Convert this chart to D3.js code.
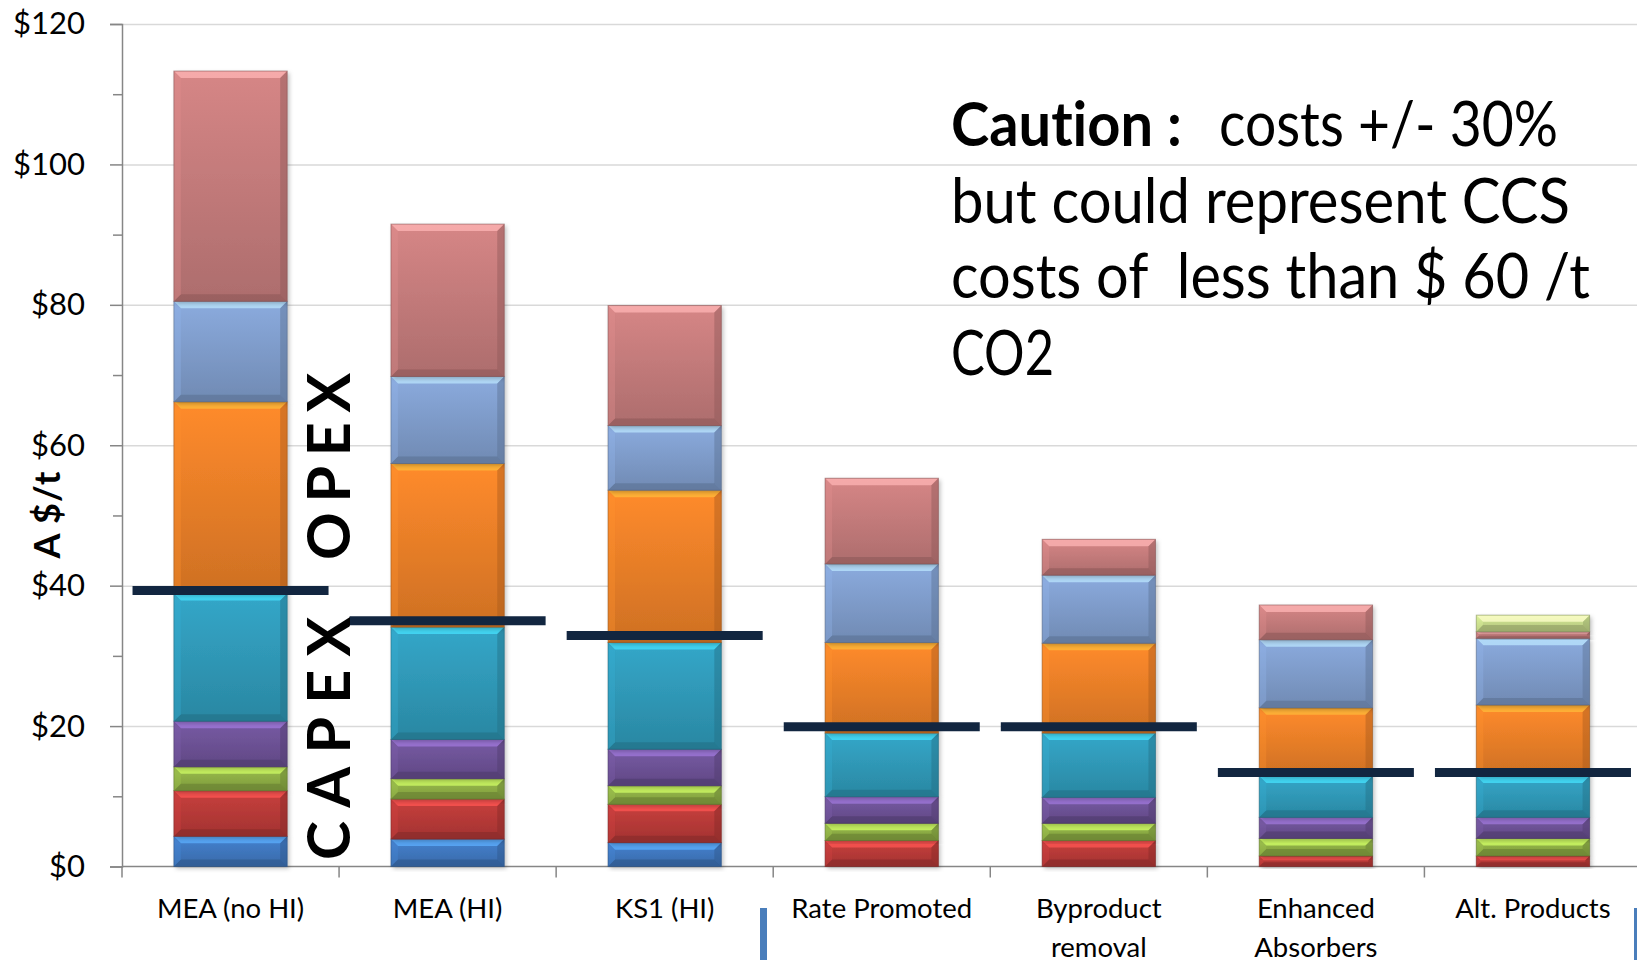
<!DOCTYPE html>
<html>
<head>
<meta charset="utf-8">
<script src="https://cdn.jsdelivr.net/npm/d3@7/dist/d3.min.js"></script>
<style>
  html, body { margin: 0; padding: 0; background: #fff; }
  svg { display: block; }
  text { font-family: Lato, "Open Sans", "Liberation Sans", sans-serif; font-variant-ligatures: none; font-feature-settings: "liga" 0, "clig" 0; }
</style>
</head>
<body>
<svg id="chart" width="1637" height="960"></svg>
<script>
// ---------------- DATA ----------------
const categories = ["MEA (no HI)", "MEA (HI)", "KS1 (HI)", "Rate Promoted", "Byproduct\nremoval", "Enhanced\nAbsorbers", "Alt. Products"];
const seriesKeys = ["capex1", "capex2", "capex3", "capex4", "capex5", "opex1", "opex2", "opex3", "opex4"];
const capex1 = [4.3, 3.9, 3.4, 0, 0, 0, 0];
const capex2 = [6.5, 5.7, 5.45, 3.7, 3.7, 1.5, 1.5];
const capex3 = [3.4, 2.9, 2.65, 2.45, 2.45, 2.5, 2.5];
const capex4 = [6.5, 5.6, 5.2, 3.8, 3.7, 3.0, 3.0];
const capex5 = [18.2, 16.0, 15.2, 9.05, 9.15, 5.9, 5.9];
const opex1 = [27.3, 23.3, 21.7, 12.9, 12.8, 9.7, 10.1];
const opex2 = [14.3, 12.4, 9.2, 11.2, 9.7, 9.7, 9.5];
const opex3 = [32.8, 21.7, 17.1, 12.2, 5.1, 4.95, 0.95];
const opex4 = [0, 0, 0, 0, 0, 0, 2.35];
const capexTotal = [39.3, 35.0, 32.9, 19.9, 19.9, 13.4, 13.4];
const yTicks = [0, 20, 40, 60, 80, 100, 120];
const yMinorTicks = [10, 30, 50, 70, 90, 110];
const seriesColors = ["#3F77BE", "#B73A38", "#8EAE45", "#6D5296", "#3099B8", "#E97F28", "#7F9CCB", "#C47B7B", "#C5D88A"];
const cautionBold = "Caution :";
const cautionLines = ["costs +/- 30%", "but could represent CCS", "costs of  less than $ 60 /t", "CO2"];

// ---------------- LAYOUT ----------------
const svg = d3.select("#chart");
const X0 = 122, STEP = 217.07, Y0 = 866.5, YTOP = 24;
const x = d3.scaleBand().domain(categories).range([X0, X0 + STEP * categories.length]).paddingInner(0.478).paddingOuter(0.239);
const y = d3.scaleLinear().domain([0, 120]).range([Y0, YTOP]);

svg.append("rect").attr("width", 1637).attr("height", 960).attr("fill", "#fff");

const defs = svg.append("defs");
seriesColors.forEach((c, i) => {
  const g = defs.append("linearGradient").attr("id", "grad" + i).attr("x1", 0).attr("y1", 0).attr("x2", 0).attr("y2", 1);
  g.append("stop").attr("offset", "0%").attr("stop-color", d3.color(c).brighter(0.25));
  g.append("stop").attr("offset", "100%").attr("stop-color", d3.color(c).darker(0.35));
});
const flt = defs.append("filter").attr("id", "shadow").attr("x", "-10%").attr("y", "-10%").attr("width", "130%").attr("height", "130%");
flt.append("feDropShadow").attr("dx", 2).attr("dy", 2).attr("stdDeviation", 2).attr("flood-color", "#000").attr("flood-opacity", 0.25);

// gridlines
svg.append("g").attr("transform", `translate(${X0},0)`)
  .call(d3.axisLeft(y).tickValues(yTicks.filter(d => d > 0)).tickSize(-1600).tickFormat(""))
  .call(g => g.select(".domain").remove())
  .call(g => g.selectAll("line").attr("stroke", "#D9D9D9").attr("stroke-width", 1.5));

// y axis major
svg.append("g").attr("transform", `translate(${X0},0)`)
  .call(d3.axisLeft(y).tickValues(yTicks).tickSize(12).tickPadding(25).tickFormat(d => "$" + d))
  .call(g => g.select(".domain").attr("stroke", "#868686").attr("stroke-width", 1.5))
  .call(g => g.selectAll("line").attr("stroke", "#868686").attr("stroke-width", 1.5))
  .call(g => g.selectAll("text").attr("font-size", 31).attr("fill", "#000").attr("font-family", "Lato, sans-serif"));
// y axis minor
svg.append("g").attr("transform", `translate(${X0},0)`)
  .call(d3.axisLeft(y).tickValues(yMinorTicks).tickSize(9).tickFormat(""))
  .call(g => g.select(".domain").remove())
  .call(g => g.selectAll("line").attr("stroke", "#868686").attr("stroke-width", 1.5));

// x axis line and boundary ticks
const gap = (x.step() - x.bandwidth()) / 2;
const bounds = categories.map(c => x(c) - gap).concat([x(categories[categories.length - 1]) + x.bandwidth() + gap]);
const xa = svg.append("g");
xa.append("line").attr("x1", X0).attr("x2", bounds[bounds.length - 1]).attr("y1", Y0).attr("y2", Y0).attr("stroke", "#868686").attr("stroke-width", 1.5);
xa.selectAll("line.tk").data(bounds).join("line").attr("class", "tk")
  .attr("x1", d => d).attr("x2", d => d).attr("y1", Y0).attr("y2", Y0 + 11).attr("stroke", "#868686").attr("stroke-width", 1.5);

// category labels
const catG = svg.append("g");
categories.forEach(c => {
  const lines = c.split("\n");
  const t = catG.append("text").attr("text-anchor", "middle").attr("font-size", 27.5).attr("fill", "#000")
    .attr("x", x(c) + x.bandwidth() / 2).attr("y", 918);
  lines.forEach((l, i) => t.append("tspan").attr("x", x(c) + x.bandwidth() / 2).attr("dy", i === 0 ? 0 : 39).text(l));
});

// stacked bars
const seriesArrays = [capex1, capex2, capex3, capex4, capex5, opex1, opex2, opex3, opex4];
const table = categories.map((c, i) => {
  const o = { cat: c };
  seriesKeys.forEach((k, j) => o[k] = seriesArrays[j][i]);
  return o;
});
const stacked = d3.stack().keys(seriesKeys)(table);

const barsG = svg.append("g");
stacked.forEach((layer, si) => {
  const col = d3.color(seriesColors[si]);
  layer.forEach(d => {
    const v0 = d[0], v1 = d[1];
    if (v1 - v0 <= 0) return;
    const bx = x(d.data.cat), bw = x.bandwidth();
    const by = y(v1), bh = y(v0) - y(v1);
    const g = barsG.append("g");
    g.append("rect").attr("x", bx).attr("y", by).attr("width", bw).attr("height", bh)
      .attr("fill", `url(#grad${si})`).attr("filter", "url(#shadow)");
    const b = Math.min(7, bh / 2.5);
    g.append("polygon").attr("points", [[bx, by], [bx + bw, by], [bx + bw - b, by + b], [bx + b, by + b]].join(" "))
      .attr("fill", col.brighter(1.1)).attr("opacity", 0.75);
    g.append("polygon").attr("points", [[bx, by + bh], [bx + bw, by + bh], [bx + bw - b, by + bh - b], [bx + b, by + bh - b]].join(" "))
      .attr("fill", col.darker(0.9)).attr("opacity", 0.6);
    g.append("polygon").attr("points", [[bx, by], [bx + b, by + b], [bx + b, by + bh - b], [bx, by + bh]].join(" "))
      .attr("fill", col.brighter(0.4)).attr("opacity", 0.35);
    g.append("polygon").attr("points", [[bx + bw, by], [bx + bw - b, by + b], [bx + bw - b, by + bh - b], [bx + bw, by + bh]].join(" "))
      .attr("fill", col.darker(0.9)).attr("opacity", 0.45);
    g.append("rect").attr("x", bx).attr("y", by).attr("width", bw).attr("height", bh)
      .attr("fill", "none").attr("stroke", col.darker(1.2)).attr("stroke-opacity", 0.55).attr("stroke-width", 1);
  });
});

// CAPEX total markers
const mw = x.step() * 0.903;
svg.append("g").selectAll("line").data(categories).join("line")
  .attr("x1", (c) => x(c) + x.bandwidth() / 2 - mw / 2)
  .attr("x2", (c) => x(c) + x.bandwidth() / 2 + mw / 2)
  .attr("y1", (c, i) => y(capexTotal[i])).attr("y2", (c, i) => y(capexTotal[i]))
  .attr("stroke", "#122640").attr("stroke-width", 9);

// y axis title
svg.append("text").attr("transform", "translate(60,515) rotate(-90)").attr("text-anchor", "middle")
  .attr("font-size", 36).attr("font-weight", "bold").attr("fill", "#000")
  .attr("xml:space", "preserve").style("white-space", "pre")
  .attr("textLength", 87).attr("lengthAdjust", "spacing").text("A $/t");

// CAPEX / OPEX vertical labels
svg.append("text").attr("transform", "translate(350,738.5) rotate(-90)").attr("text-anchor", "middle")
  .attr("font-size", 59).attr("font-weight", "bold").attr("fill", "#000")
  .attr("textLength", 243).attr("lengthAdjust", "spacing").text("CAPEX");
svg.append("text").attr("transform", "translate(350,466.5) rotate(-90)").attr("text-anchor", "middle")
  .attr("font-size", 59).attr("font-weight", "bold").attr("fill", "#000")
  .attr("textLength", 187).attr("lengthAdjust", "spacing").text("OPEX");

// caution annotation
const ann = svg.append("g").attr("fill", "#000");
function annText(xp, yp, len, str, bold) {
  ann.append("text").attr("x", xp).attr("y", yp).attr("font-size", 61)
    .attr("font-weight", bold ? "bold" : "normal")
    .attr("xml:space", "preserve").style("white-space", "pre")
    .attr("textLength", len).attr("lengthAdjust", "spacingAndGlyphs").text(str);
}
annText(951, 146, 231, cautionBold, true);
annText(1219, 146, 339, cautionLines[0], false);
annText(951, 223, 619, cautionLines[1], false);
annText(951, 298, 639, cautionLines[2], false);
annText(951, 375, 103, cautionLines[3], false);

// slide decoration: blue vertical strokes at bottom
svg.append("rect").attr("x", 760).attr("y", 908).attr("width", 7).attr("height", 52).attr("fill", "#4A7EBB");
svg.append("rect").attr("x", 1634).attr("y", 908).attr("width", 4).attr("height", 52).attr("fill", "#4A7EBB");
</script>
</body>
</html>
